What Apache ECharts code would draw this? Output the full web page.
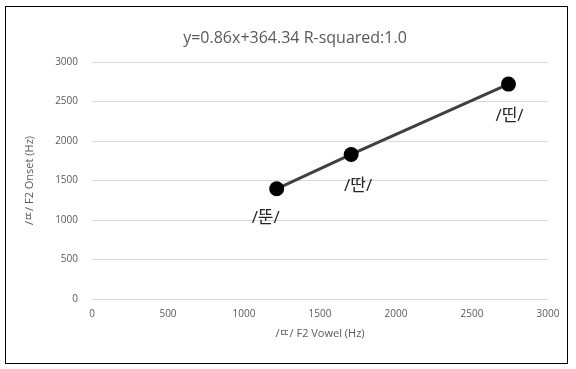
<!DOCTYPE html>
<html><head><meta charset="utf-8">
<script src="https://cdn.jsdelivr.net/npm/echarts@6/dist/echarts.min.js"></script>
<style>
html,body{margin:0;padding:0;background:#fff;}
#c{width:576px;height:369px;position:relative;}
#b{position:absolute;left:5px;top:6px;width:563px;height:358px;border:1px solid #000;box-sizing:border-box;pointer-events:none;}
</style></head>
<body><div id="c"></div><div id="b"></div>
<script>
const titleText = 'y=0.86x+364.34 R-squared:1.0';
const xName = '/ㄸ/ F2 Vowel (Hz)';
const yName = '/ㄸ/ F2 Onset (Hz)';
const labels = ['/뚠/', '/딴/', '/띤/'];
const xVals = [1215, 1705, 2740];
const yVals = [1395, 1830, 2720];
const labelOffsets = [[-11, 29], [7, 32], [1, 32]];

const font = '"Open Sans", "Noto Sans CJK KR", sans-serif';
const chart = echarts.init(document.getElementById('c'));
chart.setOption({
  animation: false,
  title: { text: titleText, left: 290, top: 25, textAlign: 'center',
    textStyle: { fontFamily: font, fontSize: 16, fontWeight: 'normal', color: '#595959' } },
  grid: { left: 92, right: 28, top: 62, bottom: 70 },
  xAxis: { type: 'value', min: 0, max: 3000, interval: 500,
    name: xName, nameLocation: 'middle', nameGap: 29,
    nameTextStyle: { fontFamily: font, fontSize: 11, color: '#595959' },
    axisLine: { show: true, lineStyle: { color: '#d9d9d9' } }, axisTick: { show: false },
    axisLabel: { fontFamily: font, fontSize: 10, color: '#595959', margin: 10, formatter: v => String(v) },
    splitLine: { show: false } },
  yAxis: { type: 'value', min: 0, max: 3000, interval: 500,
    name: yName, nameLocation: 'middle', nameGap: 57,
    nameTextStyle: { fontFamily: font, fontSize: 11, color: '#595959' },
    axisLine: { show: false }, axisTick: { show: false },
    axisLabel: { fontFamily: font, fontSize: 10, color: '#595959', margin: 14, formatter: v => String(v) },
    splitLine: { show: true, lineStyle: { color: '#d9d9d9' } } },
  series: [{
    type: 'line',
    data: xVals.map((x, i) => ({ value: [x, yVals[i]],
      label: { offset: labelOffsets[i] } })),
    lineStyle: { color: '#404040', width: 3 },
    symbol: 'circle', symbolSize: 15,
    itemStyle: { color: '#000' },
    label: { show: true, position: 'inside', formatter: p => labels[p.dataIndex],
      fontFamily: font, fontSize: 17, color: '#262626' }
  }]
});
</script></body></html>
